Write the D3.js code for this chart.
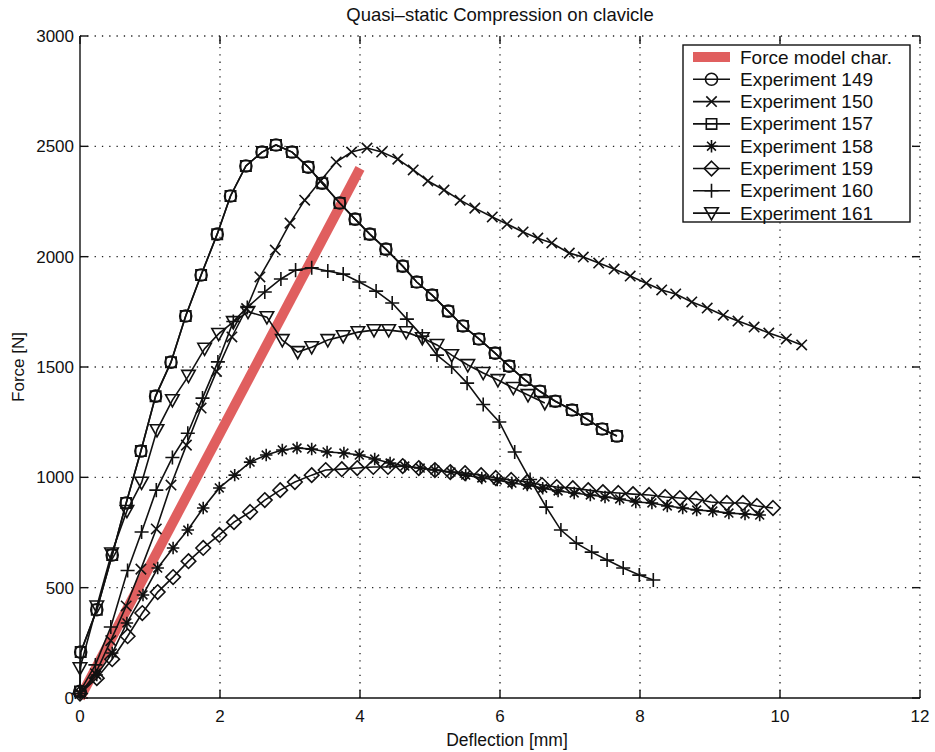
<!DOCTYPE html>
<html>
<head>
  <title>Quasi-static Compression on clavicle</title>
  <script src="https://d3js.org/d3.v7.min.js"></script>
  <style>
    body { margin: 0; background: #fff; }
    text { font-family: "Liberation Sans", Arial, sans-serif; fill: #111; }
  </style>
</head>
<body>
<svg width="935" height="752"></svg>
<script>
  // deflection [mm], force [N]
  const forceModel = [[0, 0], [4.0, 2400]];

  const exp149 = [[0,30],[0.01,208],[0.24,400],[0.46,648],[0.66,884],[0.87,1119],[1.08,1368],[1.30,1522],[1.51,1731],[1.73,1917],[1.96,2102],[2.15,2275],[2.37,2411],[2.60,2474],[2.80,2506],[3.03,2474],[3.26,2406],[3.46,2333],[3.71,2243],[3.93,2170],[4.14,2102],[4.37,2034],[4.61,1957],[4.81,1885],[5.03,1826],[5.26,1753],[5.47,1686],[5.70,1627],[5.93,1563],[6.13,1504],[6.36,1441],[6.57,1390],[6.79,1345],[7.03,1305],[7.24,1264],[7.46,1219],[7.67,1187]];
  const exp150 = [[0,20],[0.22,110],[0.44,260],[0.66,417],[0.87,584],[1.09,766],[1.30,965],[1.52,1146],[1.73,1314],[1.95,1480],[2.17,1636],[2.38,1765],[2.57,1908],[2.79,2030],[3.00,2152],[3.21,2256],[3.44,2345],[3.66,2429],[3.88,2474],[4.10,2492],[4.31,2474],[4.54,2442],[4.76,2393],[4.97,2343],[5.20,2302],[5.43,2256],[5.64,2220],[5.89,2180],[6.10,2148],[6.33,2112],[6.54,2084],[6.74,2062],[6.99,2016],[7.19,1998],[7.41,1971],[7.63,1944],[7.86,1912],[8.09,1880],[8.31,1849],[8.51,1831],[8.74,1795],[8.96,1767],[9.19,1735],[9.40,1708],[9.63,1681],[9.84,1654],[10.09,1627],[10.31,1600]];
  const exp157 = [[0,30],[0.01,208],[0.24,400],[0.46,648],[0.66,884],[0.87,1119],[1.08,1368],[1.30,1522],[1.51,1731],[1.73,1917],[1.96,2102],[2.15,2275],[2.37,2411],[2.60,2474],[2.80,2506],[3.03,2474],[3.26,2406],[3.46,2333],[3.71,2243],[3.93,2170],[4.14,2102],[4.37,2034],[4.61,1957],[4.81,1885],[5.03,1826],[5.26,1753],[5.47,1686],[5.70,1627],[5.93,1563],[6.13,1504],[6.36,1441],[6.57,1390],[6.79,1345],[7.03,1305],[7.24,1264],[7.46,1219],[7.67,1187]];
  const exp158 = [[0,20],[0.24,104],[0.46,204],[0.67,340],[0.90,467],[1.11,589],[1.33,680],[1.54,761],[1.76,861],[1.99,952],[2.21,1010],[2.43,1069],[2.66,1101],[2.89,1124],[3.10,1133],[3.31,1128],[3.53,1115],[3.77,1110],[3.99,1101],[4.21,1083],[4.43,1065],[4.64,1051],[4.86,1042],[5.07,1033],[5.30,1024],[5.51,1010],[5.74,997],[5.96,988],[6.17,974],[6.39,965],[6.61,951],[6.83,938],[7.06,929],[7.29,920],[7.50,911],[7.71,902],[7.94,888],[8.17,884],[8.39,870],[8.61,861],[8.81,852],[9.04,847],[9.27,838],[9.50,834],[9.71,829]];
  const exp159 = [[0,20],[0.24,90],[0.46,176],[0.68,280],[0.89,385],[1.11,480],[1.33,548],[1.55,620],[1.76,680],[1.99,739],[2.20,797],[2.43,843],[2.64,897],[2.86,942],[3.07,979],[3.31,1010],[3.51,1033],[3.74,1037],[3.96,1042],[4.19,1047],[4.40,1047],[4.61,1051],[4.84,1042],[5.07,1033],[5.29,1024],[5.50,1019],[5.73,1010],[5.94,997],[6.16,988],[6.39,979],[6.60,965],[6.81,956],[7.04,951],[7.26,942],[7.47,933],[7.69,929],[7.90,924],[8.13,920],[8.36,911],[8.57,906],[8.80,902],[9.01,888],[9.24,884],[9.47,884],[9.67,870],[9.90,861]];
  const exp160 = [[0,30],[0.22,150],[0.44,322],[0.68,578],[0.88,752],[1.09,942],[1.32,1090],[1.54,1200],[1.75,1359],[1.97,1523],[2.19,1706],[2.39,1770],[2.64,1840],[2.87,1899],[3.08,1939],[3.31,1950],[3.54,1935],[3.76,1921],[3.99,1885],[4.23,1844],[4.46,1790],[4.67,1717],[4.89,1640],[5.10,1554],[5.31,1500],[5.53,1427],[5.76,1330],[5.99,1251],[6.21,1115],[6.43,990],[6.66,865],[6.87,761],[7.09,702],[7.31,661],[7.53,625],[7.76,589],[7.99,557],[8.19,535]];
  const exp161 = [[0,135],[0.24,415],[0.45,655],[0.67,848],[0.88,976],[1.10,1214],[1.32,1350],[1.55,1460],[1.78,1583],[1.98,1650],[2.19,1704],[2.40,1750],[2.67,1726],[2.89,1622],[3.11,1568],[3.31,1590],[3.54,1622],[3.76,1640],[3.97,1658],[4.20,1667],[4.41,1667],[4.66,1658],[4.89,1631],[5.10,1600],[5.31,1554],[5.54,1509],[5.76,1473],[5.97,1441],[6.19,1405],[6.40,1373],[6.64,1337]];

  const seriesNames = ["Experiment 149", "Experiment 150", "Experiment 157", "Experiment 158", "Experiment 159", "Experiment 160", "Experiment 161"];
  const seriesData = [exp149, exp150, exp157, exp158, exp159, exp160, exp161];
  const seriesMarkers = ["circle", "x", "square", "star", "diamond", "plus", "triangle"];

  const xTicks = [0, 2, 4, 6, 8, 10, 12];
  const yTicks = [0, 500, 1000, 1500, 2000, 2500, 3000];

  const svg = d3.select("svg");
  const margin = { left: 80, right: 15, top: 36, bottom: 54 };
  const W = 935, H = 752;

  const x = d3.scaleLinear().domain([0, 12]).range([margin.left, W - margin.right]);
  const y = d3.scaleLinear().domain([0, 3000]).range([H - margin.bottom, margin.top]);

  // grid
  const grid = svg.append("g").attr("stroke", "#222").attr("stroke-width", 1.3)
    .attr("stroke-dasharray", "1.3,6");
  grid.selectAll(".gx").data(xTicks.slice(1)).enter().append("line")
    .attr("x1", d => x(d)).attr("x2", d => x(d))
    .attr("y1", y(0)).attr("y2", y(3000));
  grid.selectAll(".gy").data(yTicks.slice(1)).enter().append("line")
    .attr("y1", d => y(d)).attr("y2", d => y(d))
    .attr("x1", x(0)).attr("x2", x(12));

  // axes (left & bottom solid, ticks mirrored inward)
  const ax = svg.append("g").attr("stroke", "#111").attr("stroke-width", 1.4);
  ax.append("line").attr("x1", x(0)).attr("x2", x(0)).attr("y1", y(0)).attr("y2", y(3000));
  ax.append("line").attr("x1", x(0)).attr("x2", x(12)).attr("y1", y(0)).attr("y2", y(0));
  xTicks.forEach(d => {
    ax.append("line").attr("x1", x(d)).attr("x2", x(d)).attr("y1", y(0)).attr("y2", y(0) - 8);
    ax.append("line").attr("x1", x(d)).attr("x2", x(d)).attr("y1", y(3000)).attr("y2", y(3000) + 8);
  });
  yTicks.forEach(d => {
    ax.append("line").attr("x1", x(0)).attr("x2", x(0) + 8).attr("y1", y(d)).attr("y2", y(d));
    ax.append("line").attr("x1", x(12)).attr("x2", x(12) - 8).attr("y1", y(d)).attr("y2", y(d));
  });

  svg.append("g").selectAll("text").data(xTicks).enter().append("text")
    .attr("x", d => x(d)).attr("y", y(0) + 24)
    .attr("text-anchor", "middle").attr("font-size", 17).text(d => d);
  svg.append("g").selectAll("text").data(yTicks).enter().append("text")
    .attr("x", x(0) - 6).attr("y", d => y(d) + 6)
    .attr("text-anchor", "end").attr("font-size", 17).text(d => d);

  svg.append("text").attr("x", 500).attr("y", 21).attr("text-anchor", "middle")
    .attr("font-size", 18.5).text("Quasi\u2013static Compression on clavicle");
  svg.append("text").attr("x", 507).attr("y", 746).attr("text-anchor", "middle")
    .attr("font-size", 17.5).text("Deflection [mm]");
  svg.append("text").attr("transform", `translate(24,${y(1500)}) rotate(-90)`)
    .attr("text-anchor", "middle").attr("font-size", 17).text("Force [N]");

  // marker shapes
  function markerPath(type, s) {
    switch (type) {
      case "circle": return d3.symbol(d3.symbolCircle, Math.PI * 6 * 6)();
      case "square": return `M${-s},${-s}H${s}V${s}H${-s}Z`;
      case "x": return `M${-s},${-s}L${s},${s}M${-s},${s}L${s},${-s}`;
      case "plus": return `M${-s * 1.35},0H${s * 1.35}M0,${-s * 1.35}V${s * 1.35}`;
      case "star": {
        const a = s * 1.2, b = s * 0.85;
        return `M${-a},0H${a}M0,${-a}V${a}M${-b},${-b}L${b},${b}M${-b},${b}L${b},${-b}`;
      }
      case "diamond": { const a = s * 1.4; return `M0,${-a}L${a},0L0,${a}L${-a},0Z`; }
      case "triangle": { const a = s * 1.3; return `M${-a},${-a * 0.8}H${a}L0,${a * 1.0}Z`; }
    }
  }

  const line = d3.line().x(d => x(d[0])).y(d => y(d[1]));

  // force model characteristic
  svg.append("path").datum(forceModel)
    .attr("d", line).attr("fill", "none")
    .attr("stroke", "#e05f5f").attr("stroke-width", 10);

  seriesData.forEach((data, i) => {
    const g = svg.append("g");
    g.append("path").datum(data).attr("d", line)
      .attr("fill", "none").attr("stroke", "#111").attr("stroke-width", 1.6);
    g.selectAll("path.m").data(data).enter().append("path")
      .attr("class", "m")
      .attr("transform", d => `translate(${x(d[0])},${y(d[1])})`)
      .attr("d", markerPath(seriesMarkers[i], 5.2))
      .attr("fill", "none").attr("stroke", "#111").attr("stroke-width", 1.6);
  });

  // legend
  const lg = svg.append("g").attr("transform", "translate(683,45)");
  lg.append("rect").attr("width", 227).attr("height", 177)
    .attr("fill", "#fff").attr("stroke", "#111").attr("stroke-width", 1.4);
  lg.append("line").attr("x1", 10).attr("x2", 47).attr("y1", 12).attr("y2", 12)
    .attr("stroke", "#e05f5f").attr("stroke-width", 10);
  lg.append("text").attr("x", 57).attr("y", 18.5).attr("font-size", 19).text("Force model char.");
  seriesNames.forEach((name, i) => {
    const yy = 12 + 22.3 * (i + 1);
    lg.append("line").attr("x1", 10).attr("x2", 47).attr("y1", yy).attr("y2", yy)
      .attr("stroke", "#111").attr("stroke-width", 1.6);
    lg.append("path").attr("transform", `translate(28.5,${yy})`)
      .attr("d", markerPath(seriesMarkers[i], 5.2))
      .attr("fill", "none").attr("stroke", "#111").attr("stroke-width", 1.6);
    lg.append("text").attr("x", 57).attr("y", yy + 6.5).attr("font-size", 19).text(name);
  });
</script>
</body>
</html>
